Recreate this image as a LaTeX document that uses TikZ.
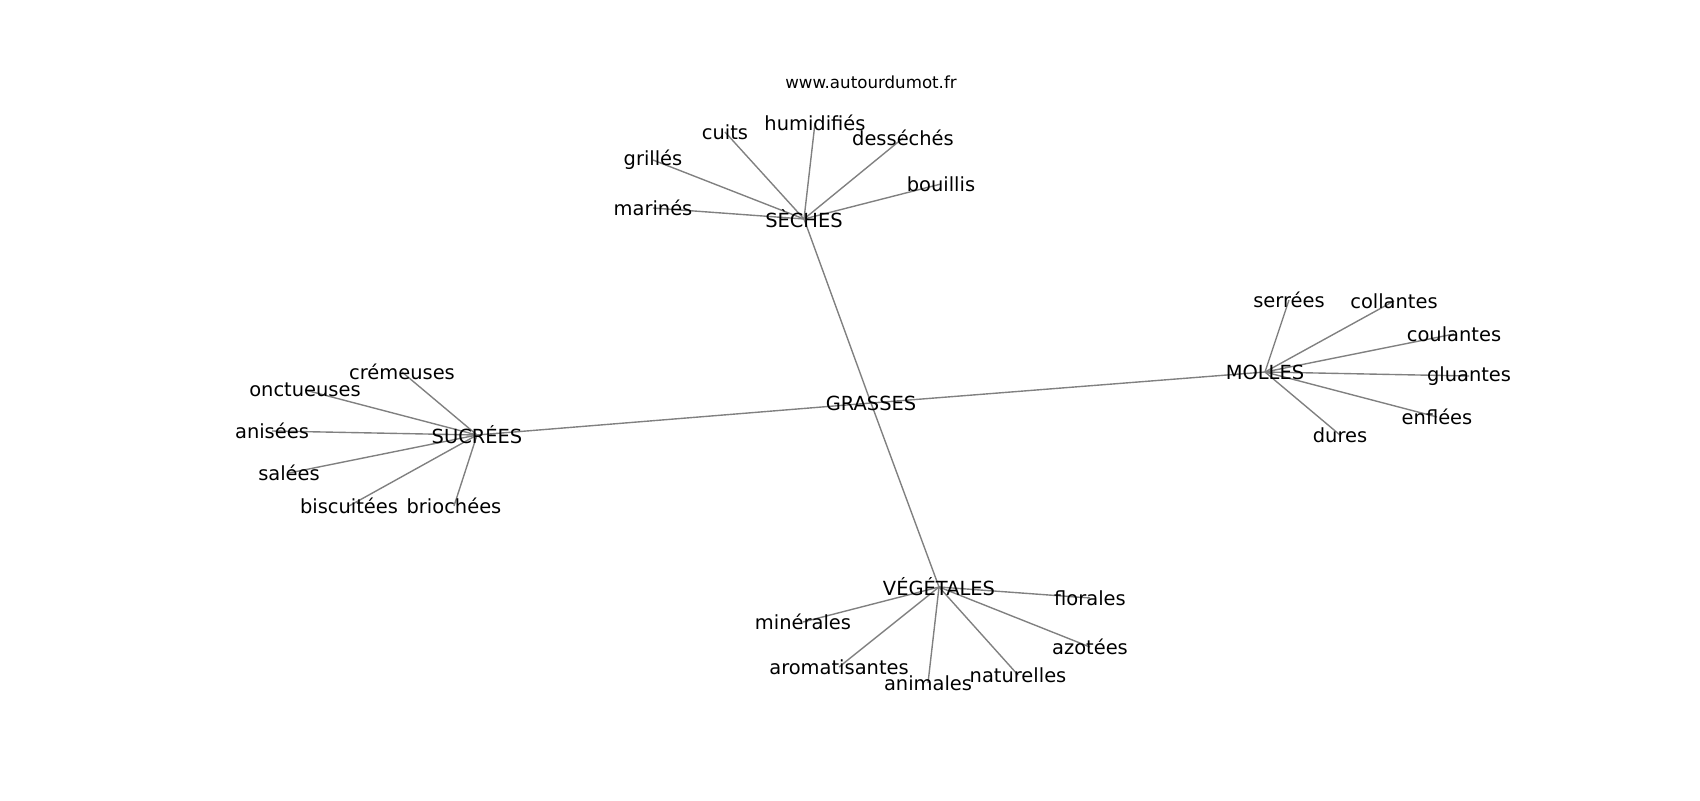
\documentclass[tikz,border=0pt]{standalone}
\usepackage{fontspec}
\setmainfont{DejaVu Sans}
\usetikzlibrary{backgrounds}

\begin{document}
\begin{tikzpicture}[x=0.72pt,y=-0.72pt,
  mot/.style={font=\fontsize{14}{16}\selectfont,inner sep=0pt},
  lien/.style={draw=gray,line width=1pt}]
\useasboundingbox (0,0) rectangle (1700,800);
\node[font=\fontsize{12}{14}\selectfont,inner sep=0pt](site) at (871,82){www.autourdumot.fr};
%centre et branches
\node[mot](grasses) at (871,403){GRASSES};
\foreach \n/\x/\y/\t in {seches/804/219/SÈCHES,sucrees/477/435/SUCRÉES,molles/1265/372/MOLLES,vegetales/939/587/VÉGÉTALES}{
\node[mot](\n) at (\x,\y){\t};
}
%mots
\foreach \n/\x/\y/\t in {cuits/725/132/cuits,humidifies/815/123/humidifiés,deseches/903/138/desséchés,grilles/653/160/grillés,bouillis/941/184/bouillis,marines/653/208/marinés,
cremeuses/402/372/crémeuses,onctueuses/305/390/onctueuses,anisees/272/431/anisées,salees/289/473/salées,biscuitees/349/506/biscuitées,briochees/454/506/briochées,
serrees/1289/300/serrées,collantes/1394/301/collantes,coulantes/1454/334/coulantes,gluantes/1469/376/gluantes,enflees/1437/417/enflées,dures/1340/435/dures,
florales/1090/598/florales,minerales/803/622/minérales,azotees/1090/647/azotées,aromatisantes/839/667/aromatisantes,animales/928/683/animales,naturelles/1018/675/naturelles}{
\node[mot](\n) at (\x,\y){\t};
}
\begin{pgfonlayer}{background}
\foreach \a/\b in {grasses/seches,grasses/sucrees,grasses/molles,grasses/vegetales,
seches/cuits,seches/humidifies,seches/deseches,seches/grilles,seches/bouillis,seches/marines,
sucrees/cremeuses,sucrees/onctueuses,sucrees/anisees,sucrees/salees,sucrees/biscuitees,sucrees/briochees,
molles/serrees,molles/collantes,molles/coulantes,molles/gluantes,molles/enflees,molles/dures,
vegetales/florales,vegetales/minerales,vegetales/azotees,vegetales/aromatisantes,vegetales/animales,vegetales/naturelles}{
\draw[lien](\a.center)--(\b.center);
}
\end{pgfonlayer}
\end{tikzpicture}
\end{document}
